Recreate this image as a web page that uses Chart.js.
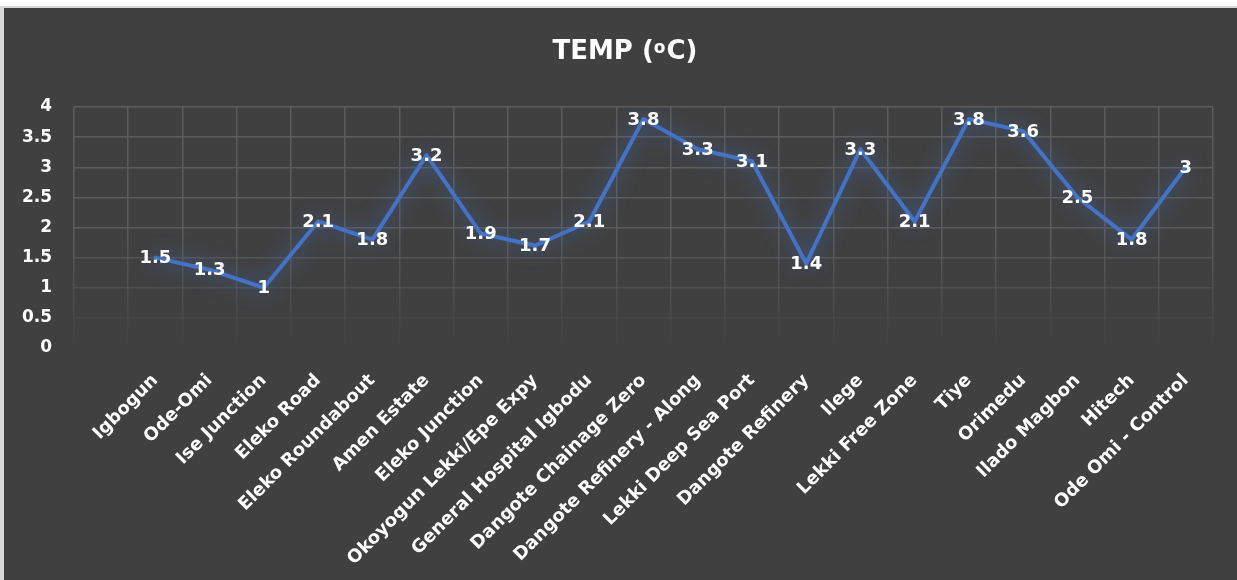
<!DOCTYPE html>
<html>
<head>
<meta charset="utf-8">
<title>TEMP (oC)</title>
<script src="https://cdn.jsdelivr.net/npm/chart.js@4.4.1/dist/chart.umd.min.js"></script>
<style>
  html, body { margin: 0; padding: 0; background: #ffffff; }
  body { width: 1237px; height: 580px; position: relative; overflow: hidden; }
  .frame { position: absolute; left: 0; top: 6px; width: 1237px; height: 574px; background: #d9d9d9; }
  .panel { position: absolute; left: 4px; top: 8px; width: 1233px; height: 572px; background: #404040; }
  canvas { display: block; }
</style>
</head>
<body>
<div class="frame"></div>
<div class="panel"><canvas id="chart" width="1233" height="572"></canvas></div>
<script>
// Sampling sites (the first slot is an empty category)
const categories = [
  "", "Igbogun", "Ode-Omi", "Ise Junction", "Eleko Road", "Eleko Roundabout",
  "Amen Estate", "Eleko Junction", "Okoyogun Lekki/Epe Expy", "General Hospital Igbodu",
  "Dangote Chainage Zero", "Dangote Refinery - Along", "Lekki Deep Sea Port",
  "Dangote Refinery", "Ilege", "Lekki Free Zone", "Tiye", "Orimedu", "Ilado Magbon",
  "Hitech", "Ode Omi - Control"
];

// Temperature readings (°C)
const temps = [
  null, 1.5, 1.3, 1, 2.1, 1.8,
  3.2, 1.9, 1.7, 2.1,
  3.8, 3.3, 3.1,
  1.4, 3.3, 2.1, 3.8, 3.6, 2.5,
  1.8, 3
];

// Value axis ticks
const yTicks = [0, 0.5, 1, 1.5, 2, 2.5, 3, 3.5, 4];

const FONT = "'DejaVu Sans', sans-serif";
const LINE_BLUE = "#4472C4";

// Gridlines fade out towards the bottom of the plot
function gridAlpha(y, area) {
  const fadeStart = area.top + (area.bottom - area.top) * 0.5;
  if (y <= fadeStart) return 1;
  const a = 1 - (y - fadeStart) / (area.bottom + 2 - fadeStart);
  return Math.max(0, a);
}

function verticalGridColor(ctx) {
  const chart = ctx.chart;
  const area = chart.chartArea;
  if (!area) return "rgba(92,92,92,1)";
  const g = chart.ctx.createLinearGradient(0, area.top, 0, area.bottom);
  g.addColorStop(0, "rgba(92,92,92,1)");
  g.addColorStop(0.5, "rgba(92,92,92,1)");
  g.addColorStop(0.8, "rgba(92,92,92,0.45)");
  g.addColorStop(1, "rgba(92,92,92,0)");
  return g;
}

function horizontalGridColor(ctx) {
  const chart = ctx.chart;
  const area = chart.chartArea;
  if (!area || !ctx.tick) return "rgba(92,92,92,1)";
  const y = chart.scales.y.getPixelForValue(ctx.tick.value);
  return "rgba(92,92,92," + gridAlpha(y, area).toFixed(3) + ")";
}

// Soft blue glow behind the line
const glowPlugin = {
  id: "glow",
  beforeDatasetDraw(chart) {
    const c = chart.ctx;
    c.save();
    c.shadowColor = "rgba(68,114,196,0.9)";
    c.shadowBlur = 20;
    c.shadowOffsetX = 0;
    c.shadowOffsetY = 0;
  },
  afterDatasetDraw(chart) {
    chart.ctx.restore();
  }
};

// Value labels centred on each point
const valueLabelPlugin = {
  id: "valueLabels",
  afterDatasetsDraw(chart) {
    const c = chart.ctx;
    const meta = chart.getDatasetMeta(0);
    const data = chart.data.datasets[0].data;
    c.save();
    c.font = "bold 18px " + FONT;
    c.fillStyle = "#ffffff";
    c.textAlign = "center";
    c.textBaseline = "middle";
    meta.data.forEach((pt, i) => {
      const v = data[i];
      if (v === null || v === undefined) return;
      c.fillText(String(v), pt.x, pt.y + 1);
    });
    c.restore();
  }
};

// Title with superscript degree "o"
const titlePlugin = {
  id: "tempTitle",
  afterDraw(chart) {
    const c = chart.ctx;
    const big = "bold 26px " + FONT;
    const small = "bold 17px " + FONT;
    const partA = "TEMP (";
    const partB = "o";
    const partC = "C)";
    c.save();
    c.fillStyle = "#ffffff";
    c.textBaseline = "alphabetic";
    c.textAlign = "left";
    c.font = big;
    const wA = c.measureText(partA).width;
    const wC = c.measureText(partC).width;
    c.font = small;
    const wB = c.measureText(partB).width;
    const total = wA + wB + wC + 1;
    let x = 621 - total / 2;
    const base = 51;
    c.font = big;
    c.fillText(partA, x, base);
    x += wA;
    c.font = small;
    c.fillText(partB, x, base - 6);
    x += wB + 1;
    c.font = big;
    c.fillText(partC, x, base);
    c.restore();
  }
};

const ctx = document.getElementById("chart").getContext("2d");
new Chart(ctx, {
  type: "line",
  data: {
    labels: categories,
    datasets: [{
      label: "TEMP (oC)",
      data: temps,
      borderColor: LINE_BLUE,
      backgroundColor: LINE_BLUE,
      borderWidth: 4,
      borderJoinStyle: "round",
      borderCapStyle: "round",
      pointRadius: 0,
      pointHoverRadius: 0,
      tension: 0,
      spanGaps: false
    }]
  },
  options: {
    responsive: false,
    animation: false,
    events: [],
    layout: { padding: { left: 0, top: 99, right: 24, bottom: 0 } },
    plugins: {
      legend: { display: false },
      tooltip: { enabled: false },
      title: { display: false }
    },
    scales: {
      x: {
        type: "category",
        offset: true,
        border: { display: false },
        grid: {
          offset: true,
          drawTicks: false,
          lineWidth: 1.5,
          color: verticalGridColor
        },
        ticks: {
          autoSkip: false,
          minRotation: 45,
          maxRotation: 45,
          padding: 22,
          color: "#ffffff",
          font: { family: FONT, size: 18, weight: "bold" }
        },
        afterFit(scale) { scale.height = 232; }
      },
      y: {
        min: 0,
        max: 4,
        border: { display: false },
        grid: {
          drawTicks: false,
          lineWidth: 1.5,
          color: horizontalGridColor
        },
        afterBuildTicks(scale) {
          scale.ticks = yTicks.map(v => ({ value: v }));
        },
        ticks: {
          padding: 22,
          color: "#ffffff",
          font: { family: FONT, size: 17, weight: "bold" },
          callback: v => String(v)
        },
        afterFit(scale) { scale.width = 70; }
      }
    }
  },
  plugins: [glowPlugin, valueLabelPlugin, titlePlugin]
});
</script>
</body>
</html>
